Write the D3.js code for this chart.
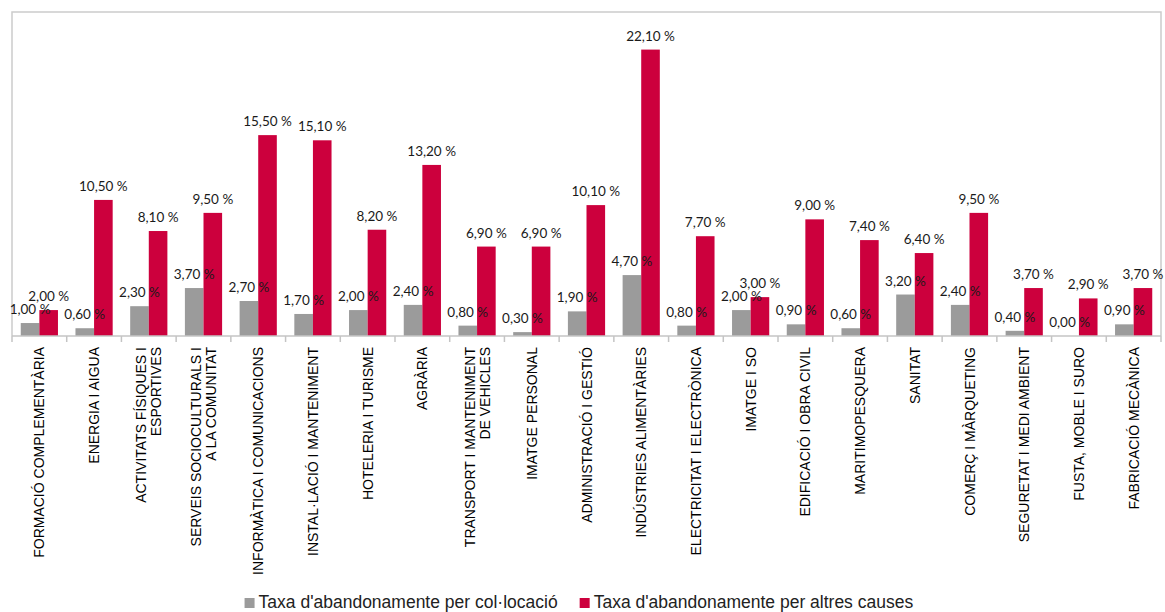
<!DOCTYPE html>
<html>
<head>
<meta charset="utf-8">
<script src="https://cdn.jsdelivr.net/npm/d3@7"></script>
<style>
  body { margin: 0; background: #fff; }
  svg { display: block; }
  .value { font-family: Lato, "DejaVu Sans", sans-serif; font-size: 13.5px; fill: #1a1a1a; }
  .cat { font-family: "Liberation Sans", Arial, sans-serif; font-size: 14px; fill: #000; }
  .legend { font-family: "Liberation Sans", Arial, sans-serif; font-size: 17.5px; fill: #222; }
</style>
</head>
<body>
<svg id="chart" width="1165" height="612"></svg>
<script>
// categories (label lines)
const CATEGORIES = [
  ["FORMACIÓ COMPLEMENTÀRIA"],
  ["ENERGIA I AIGUA"],
  ["ACTIVITATS FÍSIQUES I", "ESPORTIVES"],
  ["SERVEIS SOCIOCULTURALS I", "A LA COMUNITAT"],
  ["INFORMÀTICA I COMUNICACIONS"],
  ["INSTAL·LACIÓ I MANTENIMENT"],
  ["HOTELERIA I TURISME"],
  ["AGRÀRIA"],
  ["TRANSPORT I MANTENIMENT", "DE VEHICLES"],
  ["IMATGE PERSONAL"],
  ["ADMINISTRACIÓ I GESTIÓ"],
  ["INDÚSTRIES ALIMENTÀRIES"],
  ["ELECTRICITAT I ELECTRÒNICA"],
  ["IMATGE I SO"],
  ["EDIFICACIÓ I OBRA CIVIL"],
  ["MARITIMOPESQUERA"],
  ["SANITAT"],
  ["COMERÇ I MÀRQUETING"],
  ["SEGURETAT I MEDI AMBIENT"],
  ["FUSTA, MOBLE I SURO"],
  ["FABRICACIÓ MECÀNICA"],
];

const COLLOCACIO = [1.0, 0.6, 2.3, 3.7, 2.7, 1.7, 2.0, 2.4, 0.8, 0.3, 1.9, 4.7, 0.8, 2.0, 0.9, 0.6, 3.2, 2.4, 0.4, 0.0, 0.9];
const ALTRES = [2.0, 10.5, 8.1, 9.5, 15.5, 15.1, 8.2, 13.2, 6.9, 6.9, 10.1, 22.1, 7.7, 3.0, 9.0, 7.4, 6.4, 9.5, 3.7, 2.9, 3.7];

const SERIES = [
  { key: "col", name: "Taxa d'abandonamente per col·locació", color: "#9b9b9b", values: COLLOCACIO },
  { key: "alt", name: "Taxa d'abandonamente per altres causes", color: "#cc003d", values: ALTRES },
];

const PLOT = { left: 12, right: 1161, top: 12, bottom: 336 };

const svg = d3.select("#chart");

const locale = d3.formatLocale({ decimal: ",", thousands: ".", grouping: [3], currency: ["", "€"] });
const fmt = (v) => locale.format(".2f")(v) + " %";

const ids = CATEGORIES.map((c, i) => i);

const x = d3.scaleBand().domain(ids).range([PLOT.left, PLOT.right]).padding(0);
const bw = x.bandwidth();
const x1 = d3.scaleBand().domain(SERIES.map((s) => s.key)).range([bw * 0.16, bw * 0.84]).padding(0);
const y = d3.scaleLinear().domain([0, 25]).range([PLOT.bottom, PLOT.top]);

// plot frame (left, top, right)
svg.append("path")
  .attr("d", `M${PLOT.left},${PLOT.bottom}V${PLOT.top}H${PLOT.right}V${PLOT.bottom}`)
  .attr("fill", "none")
  .attr("stroke", "#cccccc")
  .attr("stroke-width", 1.5);

// bars
const groups = svg.append("g")
  .selectAll("g")
  .data(ids)
  .join("g")
  .attr("transform", (i) => `translate(${x(i)},0)`);

SERIES.forEach((s) => {
  groups.append("rect")
    .attr("x", x1(s.key))
    .attr("width", x1.bandwidth())
    .attr("y", (i) => y(s.values[i]))
    .attr("height", (i) => y(0) - y(s.values[i]))
    .attr("fill", s.color);
});

// value labels
SERIES.forEach((s) => {
  groups.append("text")
    .attr("class", "value")
    .attr("x", x1(s.key) + x1.bandwidth() / 2)
    .attr("y", (i) => y(s.values[i]) - 9)
    .attr("text-anchor", "middle")
    .text((i) => fmt(s.values[i]));
});

// x axis
const axis = svg.append("g")
  .attr("transform", `translate(0,${PLOT.bottom})`);
axis.append("line")
  .attr("x1", PLOT.left).attr("x2", PLOT.right)
  .attr("stroke", "#c4c4c4").attr("stroke-width", 1.5);
axis.selectAll("line.tick")
  .data(d3.range(CATEGORIES.length + 1))
  .join("line")
  .attr("class", "tick")
  .attr("x1", (k) => PLOT.left + k * bw)
  .attr("x2", (k) => PLOT.left + k * bw)
  .attr("y1", 0).attr("y2", 6)
  .attr("stroke", "#c4c4c4").attr("stroke-width", 1.5);

// category labels (rotated)
const LINE_H = 15;
svg.append("g")
  .selectAll("text")
  .data(ids)
  .join("text")
  .attr("class", "cat")
  .attr("text-anchor", "end")
  .attr("transform", (i) => `translate(${x(i) + bw / 2},347) rotate(-90)`)
  .each(function (i) {
    const lines = CATEGORIES[i];
    const off = -((lines.length - 1) * LINE_H) / 2;
    d3.select(this).selectAll("tspan")
      .data(lines)
      .join("tspan")
      .attr("x", 0)
      .attr("y", (d, k) => off + k * LINE_H)
      .attr("dy", "0.36em")
      .text((d) => d);
  });

// legend
const legend = svg.append("g").attr("transform", "translate(0,608)");
let lx = 0;
const items = legend.selectAll("g")
  .data(SERIES)
  .join("g");
items.append("rect")
  .attr("width", 10).attr("height", 10)
  .attr("y", -10)
  .attr("fill", (s) => s.color);
items.append("text")
  .attr("class", "legend")
  .attr("x", 14)
  .text((s) => s.name);
items.each(function () {
  d3.select(this).attr("transform", `translate(${lx},0)`);
  lx += this.getBBox().width + 22;
});
const totalW = lx - 22;
legend.attr("transform", `translate(${579 - totalW / 2},608)`);
</script>
</body>
</html>
